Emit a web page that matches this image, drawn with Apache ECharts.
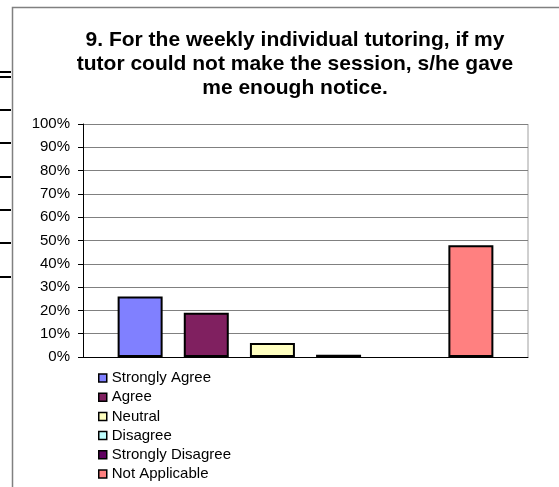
<!DOCTYPE html>
<html>
<head>
<meta charset="utf-8">
<script src="https://cdn.jsdelivr.net/npm/echarts@6/dist/echarts.min.js"></script>
<style>
  html, body { margin: 0; padding: 0; background: #fff; }
  #main { width: 559px; height: 487px; }
</style>
</head>
<body>
<div id="main"></div>
<script>
// 数据
var categories = [''];
var seriesNames = ['Strongly Agree', 'Agree', 'Neutral', 'Disagree', 'Strongly Disagree', 'Not Applicable'];
var seriesValues = [26, 19, 6, 1, 0, 48];
var seriesColors = ['#8080FF', '#802060', '#FFFFC0', '#C0FFFF', '#600060', '#FF8080'];
var yTicks = [0, 10, 20, 30, 40, 50, 60, 70, 80, 90, 100];

var myChart = echarts.init(document.getElementById('main'));

var series = seriesNames.map(function (name, i) {
  return {
    name: name,
    type: 'bar',
    data: [seriesValues[i]],
    barWidth: 45,
    barGap: '47%',
    // 0 值不画边框
    itemStyle: { color: seriesColors[i], borderColor: '#000', borderWidth: seriesValues[i] === 0 ? 0 : 2 }
  };
});

// 背后表格留下的黑线
var leftMarks = [72, 77, 110, 143, 177, 210, 243, 277].map(function (y) {
  return { type: 'line', shape: { x1: 0, y1: y, x2: 11, y2: y }, style: { stroke: '#000', lineWidth: 2 } };
});

var option = {
  animation: false,
  title: {
    text: '9. For the weekly individual tutoring, if my\ntutor could not make the session, s/he gave\nme enough notice.',
    left: 290,
    top: 23,
    textAlign: 'center',
    textStyle: { fontFamily: 'Liberation Sans, Arial', fontSize: 21, fontWeight: 'bold', color: '#000', lineHeight: 24 }
  },
  legend: {
    orient: 'vertical',
    left: 93,
    top: 365,
    height: 130,
    itemWidth: 8,
    itemHeight: 8,
    itemGap: 3.2,
    itemTextGap: 4,
    icon: 'rect',
    itemStyle: { borderColor: '#000', borderWidth: 1.5 },
    textStyle: { fontFamily: 'Liberation Sans, Arial', fontSize: 15, color: '#000', lineHeight: 16 },
    data: seriesNames
  },
  grid: { left: 83, right: 31, top: 124, bottom: 130 },
  xAxis: {
    type: 'category',
    data: categories,
    axisLine: { lineStyle: { color: '#000', width: 1 } },
    axisTick: { show: false },
    axisLabel: { show: false }
  },
  yAxis: {
    type: 'value',
    min: yTicks[0],
    max: yTicks[yTicks.length - 1],
    interval: 10,
    axisLine: { show: true, lineStyle: { color: '#000', width: 1 } },
    axisTick: { show: true, length: 5, lineStyle: { color: '#000' } },
    axisLabel: {
      margin: 13,
      formatter: '{value}%',
      fontFamily: 'Liberation Sans, Arial',
      fontSize: 15,
      color: '#000'
    },
    splitLine: { show: true, lineStyle: { color: '#808080', width: 1 } }
  },
  graphic: [
    // 外框
    { type: 'polyline', shape: { points: [[12.5, 487], [12.5, 7.5], [559, 7.5]] }, style: { stroke: '#808080', lineWidth: 1.5, fill: null } },
    // 绘图区右边框
    { type: 'line', shape: { x1: 528, y1: 124, x2: 528, y2: 357 }, style: { stroke: '#a0a0a0', lineWidth: 1 } }
  ].concat(leftMarks),
  series: series
};

myChart.setOption(option);
</script>
</body>
</html>
